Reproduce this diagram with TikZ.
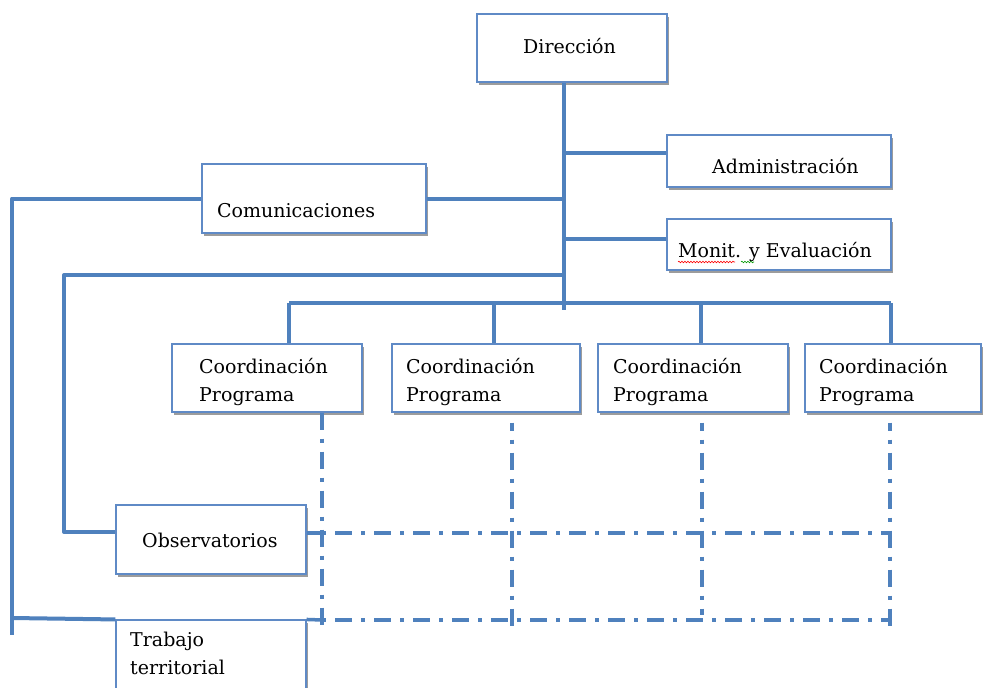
\documentclass[tikz,border=0pt]{standalone}
\usepackage{fontspec}
\setmainfont{DejaVu Serif}
\usetikzlibrary{shadows,decorations.pathmorphing}
\definecolor{lineblue}{RGB}{79,129,189}
\definecolor{boxblue}{RGB}{95,138,198}
\begin{document}
\begin{tikzpicture}[x=1pt,y=-1pt,
  box/.style n args={2}{draw=boxblue, line width=1.1pt, fill=white, inner sep=0pt,
    minimum width=#1pt, minimum height=#2pt,
    drop shadow={shadow xshift=1.5pt, shadow yshift=-2.5pt, fill=black!55, opacity=0.7}},
  txt/.style={font=\fontsize{19}{28}\selectfont, inner sep=0pt, anchor=base west, align=left, text=black},
  conn/.style={draw=lineblue, line width=4pt, line join=round},
  dd/.style={draw=lineblue, line width=3.5pt, dash pattern=on 17pt off 9pt on 4pt off 9pt},
  squig/.style={decorate, decoration={snake, amplitude=0.8pt, segment length=3pt}, line width=0.6pt}]
\useasboundingbox (0,0) rectangle (983,688);
\clip (0,0) rectangle (983,688);
\fill[white] (0,0) rectangle (983,688);

% coordinates
\coordinate (sp) at (564,310);
\coordinate (lc) at (12,198.5);
\coordinate (lcb) at (12,635);
\coordinate (lo) at (64,275);
\coordinate (b1) at (289,303);
\coordinate (b2) at (494,303);
\coordinate (b3) at (701,303);
\coordinate (b4) at (891,303);
\coordinate (d1) at (322,632);
\coordinate (d2) at (512,632);
\coordinate (d3) at (702,615);
\coordinate (d4) at (890,632);

% boxes
\node[box={190}{68}] (dir) at (572,48) {};
\node[box={224}{52}] (adm) at (779,161) {};
\node[box={224}{51}] (mon) at (779,244.5) {};
\node[box={224}{69}] (com) at (314,198.5) {};
\node[box={190}{68}] (cp1) at (267,378) {};
\node[box={188}{68}] (cp2) at (486,378) {};
\node[box={190}{68}] (cp3) at (693,378) {};
\node[box={176}{68}] (cp4) at (893,378) {};
\node[box={190}{69}] (obs) at (211,539.5) {};
\node[box={190}{100}] (tra) at (211,670) {};

% solid connectors
\draw[conn] (dir.south -| sp) -- (sp);
\draw[conn] (sp |- adm.west) ++(0,-8) -- ([yshift=8pt]adm.west);
\draw[conn] (sp |- mon.west) ++(0,-5.5) -- ([yshift=5.5pt]mon.west);
\draw[conn] (sp |- com.east) -- (com.east);
\draw[conn] (com.west) -- (lc) -- (lcb);
\draw[conn] (12,618) -- (tra.north west);
\draw[conn] (sp |- lo) -- (lo) |- ([yshift=7.5pt]obs.west);
\draw[conn] (b1) -- (b4);
\draw[conn] (b1) -- (b1 |- cp1.north);
\draw[conn] (b2) -- (b2 |- cp2.north);
\draw[conn] (b3) -- (b3 |- cp3.north);
\draw[conn] (b4) -- (b4 |- cp4.north);
\draw[conn, line width=3.5pt] ([yshift=6.5pt]obs.east) -- (d1 |- 0,533);
\draw[conn, line width=3.5pt] (tra.north east) -- (d1 |- 0,620);

% dash-dot connectors
\draw[dd] (d1 |- cp1.south) -- (d1);
\draw[dd, dash phase=9pt] (d2 |- cp2.south) ++(0,10) -- (d2);
\draw[dd, dash phase=9pt] (d3 |- cp3.south) ++(0,10) -- (d3);
\draw[dd, dash phase=9pt] (d4 |- cp4.south) ++(0,10) -- (d4);
\draw[dd, dash phase=26pt] (d1 |- 0,533) -- (d4 |- 0,533);
\draw[dd, dash phase=26pt] (d1 |- 0,620) -- (d4 |- 0,620);

% texts
\node[txt] (tdir) at (523,53) {Dirección};
\node[txt] (tadm) at (712,173) {Administración};
\node[txt] (tmon) at (678,257) {Monit. y Evaluación};
\node[txt] (tcom) at (217,217) {Comunicaciones};
\node[txt] (tc1) at (199,401) {Coordinación\\Programa};
\node[txt] (tc2) at (406,401) {Coordinación\\Programa};
\node[txt] (tc3) at (613,401) {Coordinación\\Programa};
\node[txt] (tc4) at (819,401) {Coordinación\\Programa};
\node[txt] (tobs) at (142,547) {Observatorios};
\node[txt] (ttra) at (130,674) {Trabajo\\territorial};

% spell-check marks
\draw[squig, red] (678,262) -- (735,262);
\draw[squig, green!60!black] (741,262) -- (754,262);
\end{tikzpicture}
\end{document}
